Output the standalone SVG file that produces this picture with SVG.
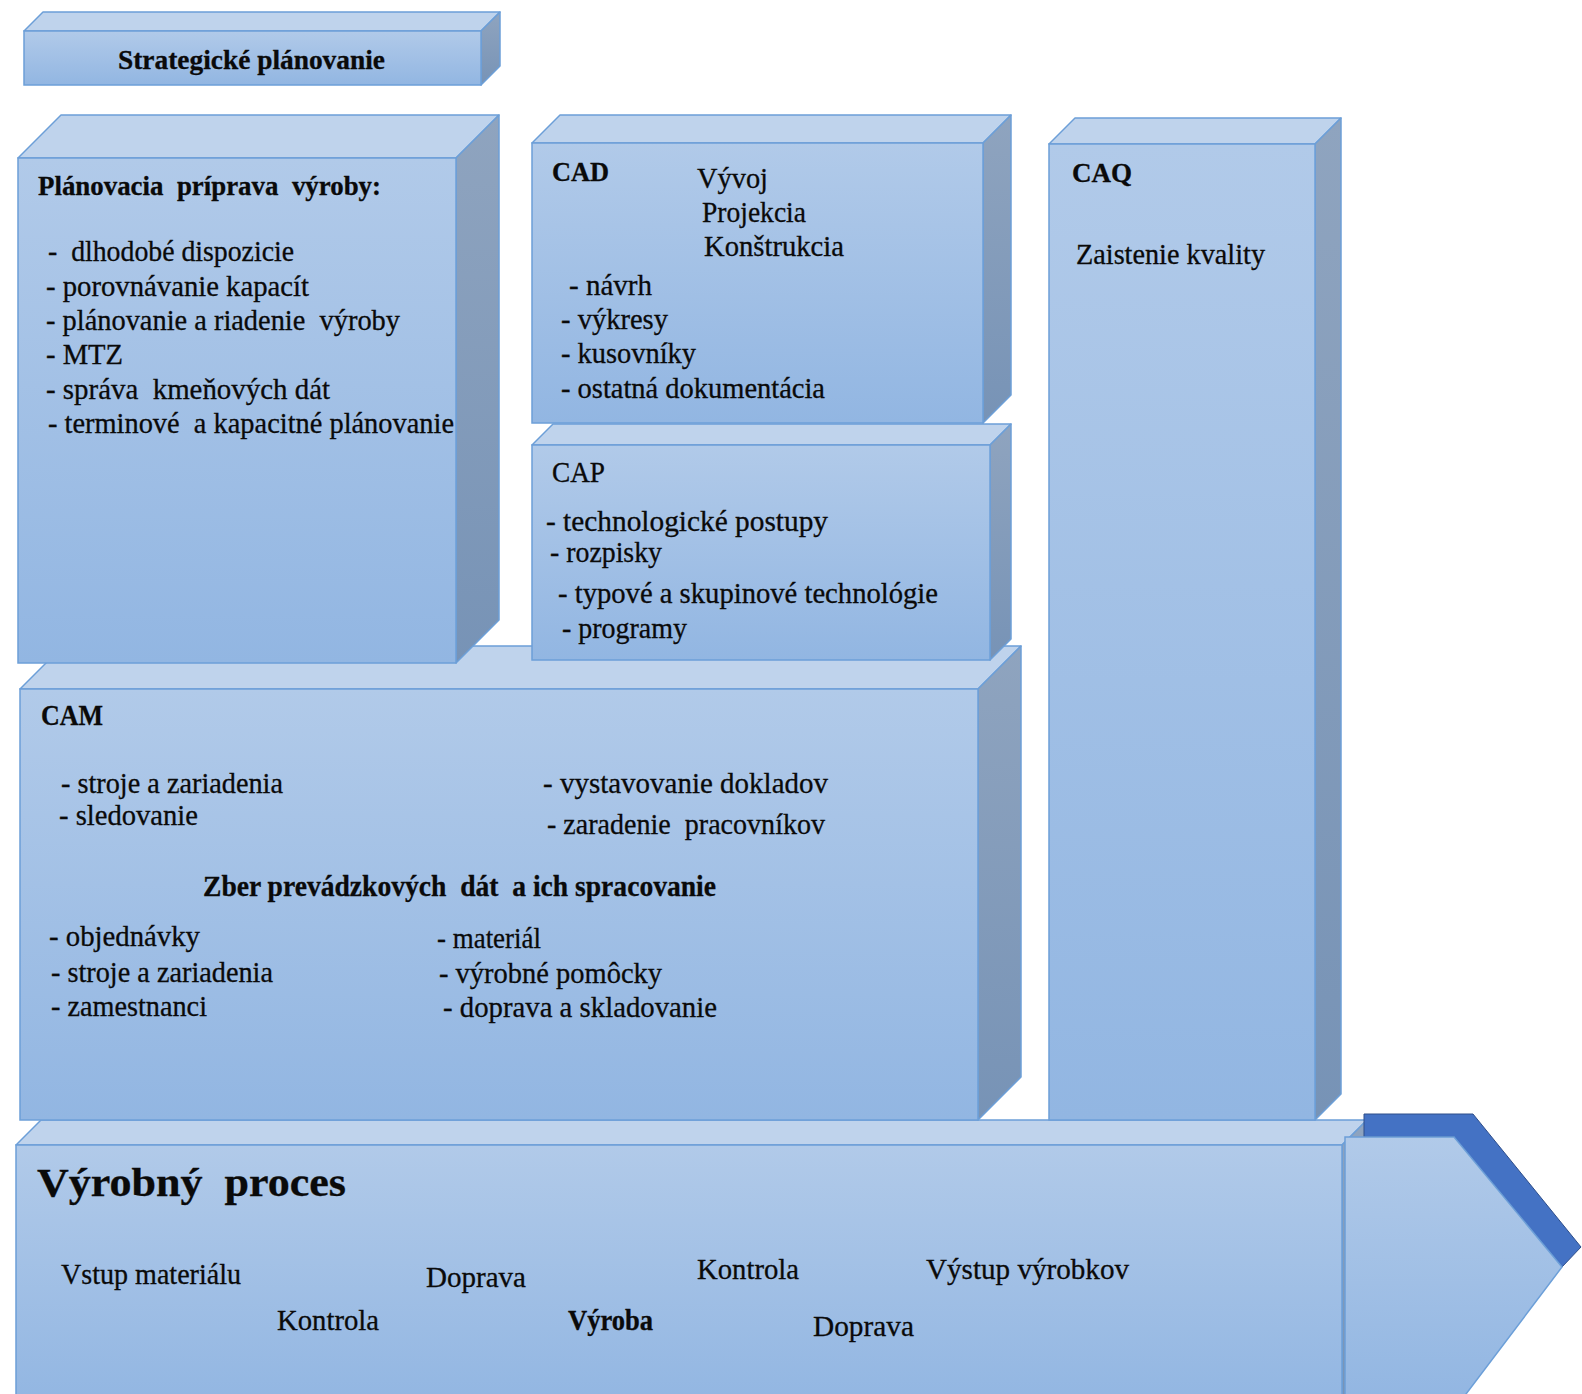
<svg xmlns="http://www.w3.org/2000/svg" width="1582" height="1394" viewBox="0 0 1582 1394">
  <defs>
    <linearGradient id="gFront" x1="0" y1="0" x2="0" y2="1">
      <stop offset="0" stop-color="#B1CAE9"/>
      <stop offset="1" stop-color="#92B6E2"/>
    </linearGradient>
    <linearGradient id="gSide" x1="0" y1="0" x2="0" y2="1">
      <stop offset="0" stop-color="#8FA4BF"/>
      <stop offset="1" stop-color="#7793B6"/>
    </linearGradient>
    <style>
      .front { fill: url(#gFront); stroke: #6C9FD8; stroke-width: 1.5; }
      .top { fill: #BFD3EC; stroke: #6C9FD8; stroke-width: 1.5; stroke-linejoin: round; }
      .side { fill: url(#gSide); stroke: #6C9FD8; stroke-width: 1.5; stroke-linejoin: round; }
      .back { fill: #4472C4; stroke: #2E4E8A; stroke-width: 1; }
      text { font-family: "Liberation Serif", "Times New Roman", serif; font-size: 28.5px; fill: #0A0A0A; stroke: #0A0A0A; stroke-width: 0.3; white-space: pre; }
      .b { font-weight: bold; font-size: 27px; }
      .n { font-size: 30px; }
      .nb { font-size: 29px; font-weight: bold; }
      .big { font-size: 40px; font-weight: bold; }
    </style>
  </defs>

  <rect width="1582" height="1394" fill="#FFFFFF"/>

  <!-- Strategic planning bar -->
  <g id="strategicke-planovanie">
    <polygon class="top" points="24,31 43,12 500,12 481,31"/>
    <polygon class="side" points="481,31 500,12 500,66 481,85"/>
    <rect class="front" x="24" y="31" width="457" height="54"/>
    <text class="b" x="118" y="69" textLength="267" lengthAdjust="spacingAndGlyphs">Strategické plánovanie</text>
  </g>

  <!-- Production process block with arrow head -->
  <g id="vyrobny-proces">
    <polygon class="top" points="16,1145 41,1120 1367,1120 1342,1145"/>
    <polygon class="side" points="1342,1145 1367,1120 1367,1400 1342,1400"/>
    <rect class="front" x="16" y="1145" width="1326" height="260"/>
    <polygon class="back" points="1364,1114 1473,1114 1581,1247 1562,1267 1454,1137 1364,1137"/>
    <polygon class="front" points="1345,1137 1454,1137 1562,1267 1460,1402 1345,1402"/>
    <text class="big" x="37" y="1196" textLength="309" lengthAdjust="spacingAndGlyphs">Výrobný  proces</text>
    <text class="n" x="61" y="1284" textLength="180" lengthAdjust="spacingAndGlyphs">Vstup materiálu</text>
    <text class="n" x="426" y="1287" textLength="100" lengthAdjust="spacingAndGlyphs">Doprava</text>
    <text class="n" x="697" y="1279" textLength="102" lengthAdjust="spacingAndGlyphs">Kontrola</text>
    <text class="n" x="926" y="1279" textLength="203" lengthAdjust="spacingAndGlyphs">Výstup výrobkov</text>
    <text class="n" x="277" y="1330" textLength="102" lengthAdjust="spacingAndGlyphs">Kontrola</text>
    <text class="nb" x="568" y="1330" textLength="85" lengthAdjust="spacingAndGlyphs">Výroba</text>
    <text class="n" x="813" y="1336" textLength="101" lengthAdjust="spacingAndGlyphs">Doprava</text>
  </g>

  <!-- CAM -->
  <g id="cam">
    <polygon class="top" points="20,689 63,646 1021,646 978,689"/>
    <polygon class="side" points="978,689 1021,646 1021,1077 978,1120"/>
    <rect class="front" x="20" y="689" width="958" height="431"/>
    <text class="nb" x="41" y="725" textLength="62" lengthAdjust="spacingAndGlyphs">CAM</text>
    <text class="n" x="61" y="793" textLength="222" lengthAdjust="spacingAndGlyphs">- stroje a zariadenia</text>
    <text class="n" x="59" y="825" textLength="139" lengthAdjust="spacingAndGlyphs">- sledovanie</text>
    <text class="n" x="543" y="793" textLength="285" lengthAdjust="spacingAndGlyphs">- vystavovanie dokladov</text>
    <text class="n" x="547" y="834" textLength="278" lengthAdjust="spacingAndGlyphs">- zaradenie  pracovníkov</text>
    <text class="nb" x="203" y="896" textLength="513" lengthAdjust="spacingAndGlyphs">Zber prevádzkových  dát  a ich spracovanie</text>
    <text class="n" x="49" y="946" textLength="151" lengthAdjust="spacingAndGlyphs">- objednávky</text>
    <text class="n" x="51" y="982" textLength="222" lengthAdjust="spacingAndGlyphs">- stroje a zariadenia</text>
    <text class="n" x="51" y="1016" textLength="156" lengthAdjust="spacingAndGlyphs">- zamestnanci</text>
    <text class="n" x="437" y="948" textLength="104" lengthAdjust="spacingAndGlyphs">- materiál</text>
    <text class="n" x="439" y="983" textLength="223" lengthAdjust="spacingAndGlyphs">- výrobné pomôcky</text>
    <text class="n" x="443" y="1017" textLength="274" lengthAdjust="spacingAndGlyphs">- doprava a skladovanie</text>
  </g>

  <!-- CAQ -->
  <g id="caq">
    <polygon class="top" points="1049,144 1075,118 1341,118 1315,144"/>
    <polygon class="side" points="1315,144 1341,118 1341,1094 1315,1120"/>
    <rect class="front" x="1049" y="144" width="266" height="976"/>
    <text class="b" x="1072" y="182" textLength="60" lengthAdjust="spacingAndGlyphs">CAQ</text>
    <text x="1076" y="264" textLength="189" lengthAdjust="spacingAndGlyphs">Zaistenie kvality</text>
  </g>

  <!-- Production planning -->
  <g id="planovacia-priprava">
    <polygon class="top" points="18,158 61,115 499,115 456,158"/>
    <polygon class="side" points="456,158 499,115 499,620 456,663"/>
    <rect class="front" x="18" y="158" width="438" height="505"/>
    <text class="b" x="38" y="195" textLength="343" lengthAdjust="spacingAndGlyphs">Plánovacia  príprava  výroby:</text>
    <text x="48" y="261" textLength="246" lengthAdjust="spacingAndGlyphs">-  dlhodobé dispozicie</text>
    <text x="46" y="296" textLength="263" lengthAdjust="spacingAndGlyphs">- porovnávanie kapacít</text>
    <text x="46" y="330" textLength="354" lengthAdjust="spacingAndGlyphs">- plánovanie a riadenie  výroby</text>
    <text x="46" y="364" textLength="77" lengthAdjust="spacingAndGlyphs">- MTZ</text>
    <text x="46" y="399" textLength="284" lengthAdjust="spacingAndGlyphs">- správa  kmeňových dát</text>
    <text x="48" y="433" textLength="406" lengthAdjust="spacingAndGlyphs">- terminové  a kapacitné plánovanie</text>
  </g>

  <!-- CAP -->
  <g id="cap">
    <polygon class="top" points="532,445 553,424 1011,424 990,445"/>
    <polygon class="side" points="990,445 1011,424 1011,639 990,660"/>
    <rect class="front" x="532" y="445" width="458" height="215"/>
    <text x="552" y="482" textLength="53" lengthAdjust="spacingAndGlyphs">CAP</text>
    <text x="546" y="531" textLength="282" lengthAdjust="spacingAndGlyphs">- technologické postupy</text>
    <text x="550" y="562" textLength="112" lengthAdjust="spacingAndGlyphs">- rozpisky</text>
    <text x="558" y="603" textLength="380" lengthAdjust="spacingAndGlyphs">- typové a skupinové technológie</text>
    <text x="562" y="638" textLength="125" lengthAdjust="spacingAndGlyphs">- programy</text>
  </g>

  <!-- CAD -->
  <g id="cad">
    <polygon class="top" points="532,143 560,115 1011,115 983,143"/>
    <polygon class="side" points="983,143 1011,115 1011,395 983,423"/>
    <rect class="front" x="532" y="143" width="451" height="280"/>
    <text class="b" x="552" y="181" textLength="57" lengthAdjust="spacingAndGlyphs">CAD</text>
    <text x="697" y="188" textLength="71" lengthAdjust="spacingAndGlyphs">Vývoj</text>
    <text x="702" y="222" textLength="104" lengthAdjust="spacingAndGlyphs">Projekcia</text>
    <text x="704" y="256" textLength="140" lengthAdjust="spacingAndGlyphs">Konštrukcia</text>
    <text x="569" y="295" textLength="83" lengthAdjust="spacingAndGlyphs">- návrh</text>
    <text x="561" y="329" textLength="107" lengthAdjust="spacingAndGlyphs">- výkresy</text>
    <text x="561" y="363" textLength="135" lengthAdjust="spacingAndGlyphs">- kusovníky</text>
    <text x="561" y="398" textLength="264" lengthAdjust="spacingAndGlyphs">- ostatná dokumentácia</text>
  </g>
</svg>
